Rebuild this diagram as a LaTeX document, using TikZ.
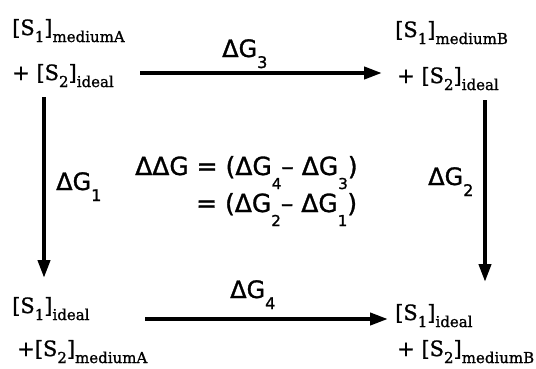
\documentclass[tikz,border=0pt]{standalone}
\usepackage{fontspec}
\setmainfont{DejaVu Sans}[FakeBold=1.2]
\newfontfamily\serifA{DejaVu Serif}[FakeBold=1.2]
\usetikzlibrary{arrows.meta}
\newcommand{\ssub}[1]{\raisebox{-11pt}{\fontsize{16}{16}\selectfont #1}}
\newcommand{\csub}[1]{\raisebox{-14pt}{\fontsize{15}{15}\selectfont #1}}
\newcommand{\rsub}[1]{\raisebox{-7pt}{\fontsize{15}{15}\selectfont #1}}
\tikzset{
  corner/.style={anchor=base west, inner sep=0pt, font=\serifA\fontsize{21}{21}\selectfont},
  dlabel/.style={anchor=base west, inner sep=0pt, font=\fontsize{24}{24}\selectfont},
  eqline/.style={anchor=base west, inner sep=0pt, font=\fontsize{25}{25}\selectfont},
  arr/.style={line width=4pt, -{Triangle[length=18pt,width=12pt]}}
}
\begin{document}
\begin{tikzpicture}[x=1pt,y=-1pt]
\useasboundingbox (0,0) rectangle (536,368);
% corners
\node[corner] (tl1) at (12,35) {[S\rsub{1}]\rsub{mediumA}};
\node[corner] (tl2) at (12,80) {+ [S\rsub{2}]\rsub{ideal}};
\node[corner] (tr1) at (395,37) {[S\rsub{1}]\rsub{mediumB}};
\node[corner] (tr2) at (397,83) {+ [S\rsub{2}]\rsub{ideal}};
\node[corner] (bl1) at (12,313) {[S\rsub{1}]\rsub{ideal}};
\node[corner] (bl2) at (17,356) {+[S\rsub{2}]\rsub{mediumA}};
\node[corner] (br1) at (395,320) {[S\rsub{1}]\rsub{ideal}};
\node[corner] (br2) at (397,356) {+ [S\rsub{2}]\rsub{mediumB}};
% arrow end points
\coordinate (g3s) at (140,73);
\coordinate (g3e) at (382,73);
\coordinate (g1s) at (44,97);
\coordinate (g1e) at (44,278);
\coordinate (g2s) at (485,100);
\coordinate (g2e) at (485,282);
\coordinate (g4s) at (145,319);
\coordinate (g4e) at (388,319);
\draw[arr] (g3s) -- (g3e);
\draw[arr] (g1s) -- (g1e);
\draw[arr] (g2s) -- (g2e);
\draw[arr] (g4s) -- (g4e);
% labels
\node[dlabel] (l3) at (222,57) {ΔG\ssub{3}};
\node[dlabel] (l1) at (56,190) {ΔG\ssub{1}};
\node[dlabel] (l2) at (428,185) {ΔG\ssub{2}};
\node[dlabel] (l4) at (230,298) {ΔG\ssub{4}};
% equation
\node[eqline] (eq1) at (135,175) {ΔΔG = (ΔG\csub{4}– ΔG\csub{3})};
\node[eqline] (eq2) at (196,212) {= (ΔG\csub{2}– ΔG\csub{1})};
\end{tikzpicture}
\end{document}
